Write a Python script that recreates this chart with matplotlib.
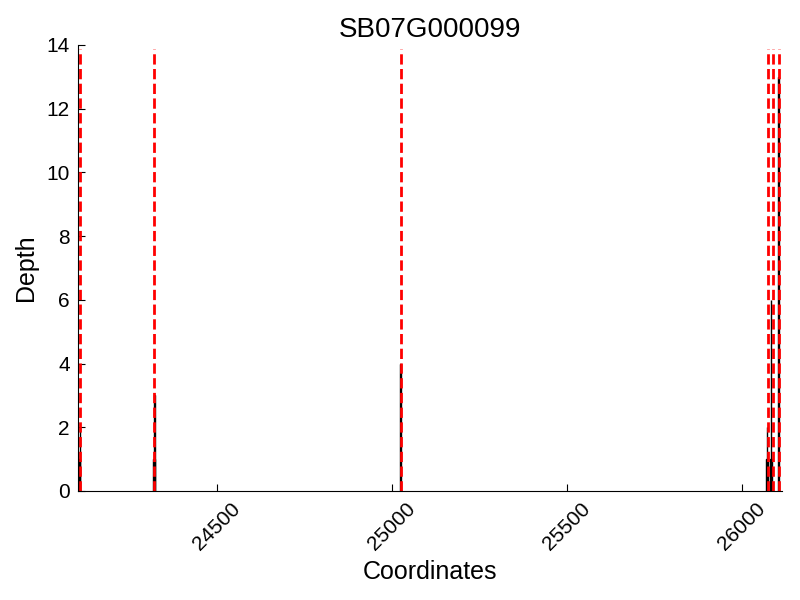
import matplotlib
matplotlib.use("Agg")
import matplotlib.pyplot as plt

plt.rcParams['font.family'] = ['Liberation Sans', 'DejaVu Sans']

# coverage blocks: start coordinate, width, depth
block_start = [24105, 24108, 24318, 24320, 25024, 26068, 26070, 26080, 26082, 26103]
block_width = [3, 2, 4, 2, 3, 6, 2, 6, 2, 3]
block_depth = [1, 2, 1, 3, 4, 1, 2, 1, 6, 13]

# feature boundaries (red dashed)
boundaries = [24109, 24320, 25026, 26074, 26089, 26106]

title = "SB07G000099"
x_ticks = [24500, 25000, 25500, 26000]
y_ticks = [0, 2, 4, 6, 8, 10, 12, 14]

fig = plt.figure(figsize=(8, 6), dpi=100)
ax = fig.add_axes([0.0975, 0.1817, 0.88, 0.7433])

ax.bar(block_start, block_depth, width=block_width, align='edge',
       color='black', edgecolor='black', linewidth=1)

for b in boundaries:
    ax.axvline(b, ymax=0.99, color='red', linestyle='--', linewidth=2)

ax.set_xlim(24103, 26114)
ax.set_ylim(0, 14)
ax.set_xticks(x_ticks)
ax.set_yticks(y_ticks)
ax.tick_params(direction='in', labelsize=15, length=5, pad=6)
for lab in ax.get_xticklabels():
    lab.set_rotation(45)
ax.spines['top'].set_visible(False)
ax.spines['right'].set_visible(False)

ax.set_title(title, fontsize=20)
ax.set_xlabel("Coordinates", fontsize=18)
ax.set_ylabel("Depth", fontsize=18, labelpad=6)

fig.savefig("out.png", dpi=100)
